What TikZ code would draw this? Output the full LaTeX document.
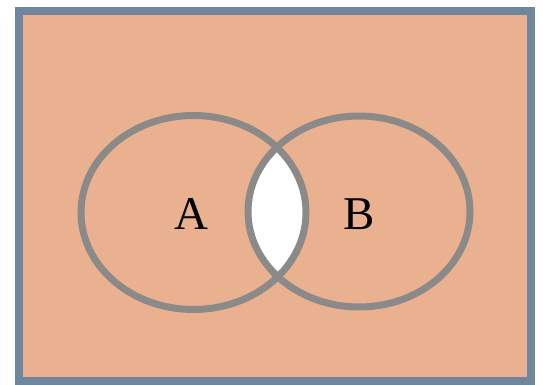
\documentclass[tikz,border=0pt]{standalone}
\usepackage{fontspec}
\setmainfont{Liberation Serif}
\begin{document}
\begin{tikzpicture}[x=1pt,y=-1pt,
  setline/.style={draw=setgray,line width=7pt},
  lbl/.style={font=\fontsize{47}{47}\selectfont,text=black,inner sep=0pt}]
\definecolor{bgfill}{HTML}{E9B190}
\definecolor{frame}{HTML}{6E879D}
\definecolor{setgray}{HTML}{8C8A89}
\useasboundingbox (0,0) rectangle (543,385);
\fill[white] (0,0) rectangle (543,385);
\draw[fill=bgfill,draw=frame,line width=8pt] (19,11) rectangle (531,381);
\begin{scope}
  \clip (193.5,212.5) ellipse [x radius=112.5,y radius=97];
  \fill[white] (359,211.5) ellipse [x radius=111,y radius=95.5];
\end{scope}
\draw[setline] (193.5,212.5) ellipse [x radius=112.5,y radius=97];
\draw[setline] (359,211.5) ellipse [x radius=111,y radius=95.5];
\node[lbl] (A) at (191.5,214) {A};
\node[lbl] (B) at (359.5,214) {B};
\end{tikzpicture}
\end{document}
